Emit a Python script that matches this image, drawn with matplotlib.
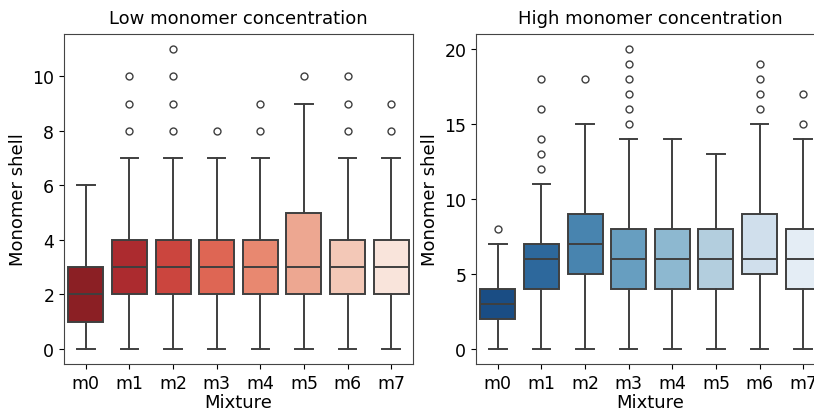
import matplotlib
matplotlib.use("Agg")
import matplotlib.pyplot as plt
import seaborn as sns

mixtures = ["m0", "m1", "m2", "m3", "m4", "m5", "m6", "m7"]

# low monomer concentration: whisker low, q1, median, q3, whisker high, outliers
low_whislo = [0, 0, 0, 0, 0, 0, 0, 0]
low_q1 = [1, 2, 2, 2, 2, 2, 2, 2]
low_med = [2, 3, 3, 3, 3, 3, 3, 3]
low_q3 = [3, 4, 4, 4, 4, 5, 4, 4]
low_whishi = [6, 7, 7, 7, 7, 9, 7, 7]
low_fliers = [[], [8, 9, 10], [8, 9, 10, 11], [8], [8, 9], [10], [8, 9, 10], [8, 9]]

# high monomer concentration
high_whislo = [0, 0, 0, 0, 0, 0, 0, 0]
high_q1 = [2, 4, 5, 4, 4, 4, 5, 4]
high_med = [3, 6, 7, 6, 6, 6, 6, 6]
high_q3 = [4, 7, 9, 8, 8, 8, 9, 8]
high_whishi = [7, 11, 15, 14, 14, 13, 15, 14]
high_fliers = [[8], [12, 13, 14, 16, 18], [18], [15, 16, 17, 18, 19, 20], [], [], [16, 17, 18, 19], [15, 17]]


def stats(lo, q1, med, q3, hi, fl):
    return [dict(whislo=a, q1=b, med=c, q3=d, whishi=e, fliers=f, label=m)
            for a, b, c, d, e, f, m in zip(lo, q1, med, q3, hi, fl, mixtures)]


def draw(ax, st, pal, title):
    gray = "#3f3f3f"
    lw = 1.4
    bp = ax.bxp(st, positions=range(len(st)), widths=0.8, capwidths=0.4,
                patch_artist=True,
                boxprops=dict(edgecolor=gray, linewidth=lw),
                medianprops=dict(color=gray, linewidth=lw),
                whiskerprops=dict(color=gray, linewidth=lw),
                capprops=dict(color=gray, linewidth=lw),
                flierprops=dict(marker="o", markerfacecolor="none",
                                markeredgecolor=gray, markersize=5, markeredgewidth=1))
    for patch, c in zip(bp["boxes"], pal):
        patch.set_facecolor(c)
    ax.set_xticks(range(len(st)))
    ax.set_xticklabels(mixtures)
    ax.set_xlim(-0.5, len(st) - 0.5)
    ax.margins(y=0.05)
    ax.set_title(title, fontsize=13, pad=8)
    ax.set_xlabel("Mixture", fontsize=13, labelpad=1)
    ax.set_ylabel("Monomer shell", fontsize=13)
    ax.tick_params(labelsize=12.5)
    for s in ax.spines.values():
        s.set_color("#444444")


reds = [sns.desaturate(c, 0.75) for c in sns.color_palette("Reds_r", 8)]
blues = [sns.desaturate(c, 0.75) for c in sns.color_palette("Blues_r", 8)]

fig = plt.figure(figsize=(8.14, 4.10), dpi=100)
ax1 = fig.add_axes([64 / 814, 45 / 410, 349 / 814, 330 / 410])
ax2 = fig.add_axes([476 / 814, 45 / 410, 349 / 814, 330 / 410])

draw(ax1, stats(low_whislo, low_q1, low_med, low_q3, low_whishi, low_fliers), reds,
     "Low monomer concentration")
draw(ax2, stats(high_whislo, high_q1, high_med, high_q3, high_whishi, high_fliers), blues,
     "High monomer concentration")
ax1.set_yticks([0, 2, 4, 6, 8, 10])
ax2.set_yticks([0, 5, 10, 15, 20])

fig.savefig("out.png", dpi=100)
